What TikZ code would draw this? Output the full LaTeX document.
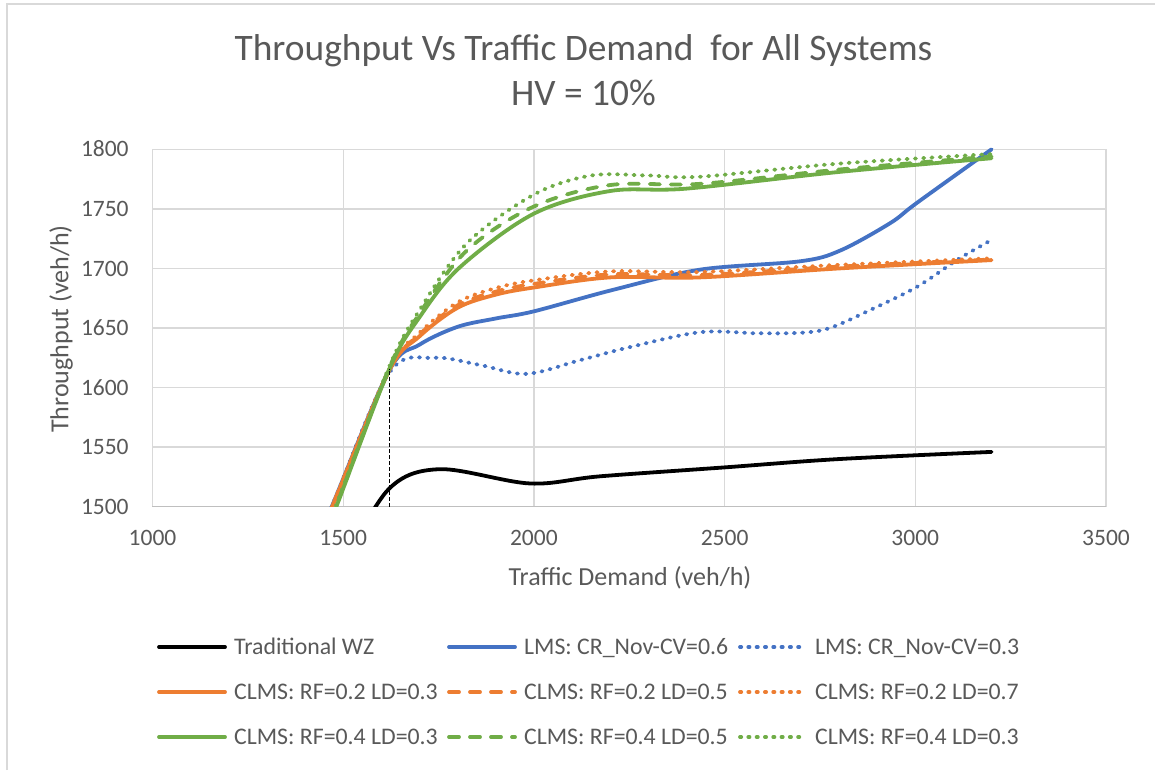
\documentclass[tikz,border=0pt]{standalone}
\usepackage{fontspec}
\setmainfont{Carlito}
\definecolor{txt}{HTML}{595959}
\definecolor{gridc}{HTML}{D9D9D9}
\definecolor{axisc}{HTML}{BFBFBF}
\definecolor{cblue}{HTML}{4472C4}
\definecolor{corange}{HTML}{ED7D31}
\definecolor{cgreen}{HTML}{70AD47}
\begin{document}
\begin{tikzpicture}[x=1pt,y=-1pt,
  frameline/.style={draw=gridc,line width=1.3pt},
  gridline/.style={draw=gridc,line width=1.3pt},
  axisline/.style={draw=axisc,line width=1.3pt},
  titletext/.style={text=txt,inner sep=0pt,font=\fontsize{37.4}{45}\selectfont},
  axistitle/.style={text=txt,inner sep=0pt,font=\fontsize{26}{31}\selectfont},
  ticklabel/.style={text=txt,inner sep=0pt,font=\fontsize{23.5}{28}\selectfont},
  legendtext/.style={text=txt,inner sep=0pt,anchor=base west,font=\fontsize{23.8}{28}\selectfont},
  series/.style={line width=3.8pt,line join=round,line cap=round},
  solidline/.style={series},
  dashline/.style={series,dash pattern=on 10pt off 11pt},
  dotline/.style={series,dash pattern=on 1.2pt off 7.1pt},
  smoothplot/.style={smooth,tension=0.55}
]
\useasboundingbox (0,0) rectangle (1155,770);
\fill[white] (0,0) rectangle (1155,770);
% chart frame (top and left edges)
\draw[frameline] (7,770) -- (7,4) -- (1155,4);

% title
\node[titletext,anchor=base] (title1) at (583.5,61) {Throughput Vs Traffic Demand\ \ for All Systems};
\node[titletext,anchor=base] (title2) at (583.5,106) {HV = 10\%};

% plot area in data coordinates: demand on x, throughput on y
\begin{scope}[shift={(-228.9pt,-2293.65pt)},x=0.3814pt,y=1.1913pt]
  \foreach \v in {1550,1600,...,1800} \draw[gridline] (1000,\v) -- (3500,\v);
  \foreach \u in {1000,1500,...,3500} \draw[gridline] (\u,1500) -- (\u,1800);
  \draw[axisline] (1000,1500) -- (3500,1500);

  % tick labels
  \foreach \v in {1500,1550,...,1800}
    \node[ticklabel,anchor=base east] (ty\v) at (938,\v) [yshift=-7.6pt] {\v};
  \foreach \u in {1000,1500,...,3500}
    \node[ticklabel,anchor=base] (tx\u) at (\u,1500) [yshift=-38.3pt] {\u};

  \begin{scope}
    \clip (1000,1500) rectangle (3500,1830);
    % Traditional WZ
    \draw[solidline,black] plot[smoothplot] coordinates {(1500,1452) (1620,1515) (1754,1531.5) (1990,1519.5) (2173,1525.5) (2500,1533) (2800,1540) (3200,1546)};
    % LMS CR_Nov-CV = 0.6
    \draw[solidline,cblue] plot[smoothplot] coordinates {(1350,1409) (1470,1500) (1620,1614) (1700,1636) (1800,1651) (1900,1658) (2000,1664) (2207,1682) (2436,1699) (2698,1706) (2803,1715) (2934,1738) (3004,1755) (3200,1800)};
    % LMS CR_Nov-CV = 0.3
    \draw[dotline,cblue] plot[smoothplot] coordinates {(1350,1409) (1470,1500) (1620,1612) (1736,1625) (1858,1619) (1980,1611.5) (2121,1623) (2252,1634) (2436,1646.5) (2584,1645.6) (2700,1646) (2776,1650) (2881,1665) (3004,1684.5) (3109,1707) (3200,1724)};
    % CLMS RF = 0.2
    \draw[solidline,corange] plot[smoothplot] coordinates {(1350,1409) (1471,1500) (1620,1614) (1700,1643) (1800,1667) (1900,1678) (2000,1684) (2200,1692.5) (2436,1692.5) (2800,1700) (3200,1707)};
    \draw[dashline,corange] plot[smoothplot] coordinates {(1350,1409) (1471,1500) (1620,1614) (1700,1644.5) (1800,1669) (1900,1680.5) (2000,1687) (2200,1695) (2436,1694.5) (2800,1701.5) (3200,1707.5)};
    \draw[dotline,corange] plot[smoothplot] coordinates {(1350,1409) (1471,1500) (1620,1615) (1700,1646) (1800,1671.5) (1900,1683.5) (2000,1690) (2200,1697.5) (2436,1697) (2800,1703) (3200,1708.5)};
    % CLMS RF = 0.4
    \draw[solidline,cgreen] plot[smoothplot] coordinates {(1350,1390) (1482,1500) (1620,1615) (1700,1659) (1806,1701) (2000,1746) (2200,1765) (2400,1767) (2800,1781) (3200,1792.5)};
    \draw[dashline,cgreen] plot[smoothplot] coordinates {(1350,1390) (1481,1500) (1620,1616) (1700,1662) (1824,1715) (2000,1752) (2200,1770) (2436,1771) (2800,1783) (3200,1794)};
    \draw[dotline,cgreen] plot[smoothplot] coordinates {(1350,1390) (1480,1500) (1620,1617) (1700,1665) (1824,1721) (2000,1762) (2150,1778) (2300,1778) (2436,1777) (2800,1788) (3200,1796)};
  \end{scope}

  % drop line from the branching point
  \coordinate (branch) at (1621,1616);
  \coordinate (branchfoot) at (1621,1500);
  \draw[black,line width=1pt,dash pattern=on 3.5pt off 2.5pt] (branchfoot) -- (branch);
\end{scope}

% axis titles
\node[axistitle,anchor=base] (xtitle) at (630,585.5) {Traffic Demand (veh/h)};
\node[axistitle,rotate=90,anchor=center] (ytitle) at (61,329) {Throughput (veh/h)};

% legend
\foreach \name/\sty/\col/\x/\y/\lab in {
  lgA/solidline/black/157/647/{Traditional WZ},
  lgB/solidline/cblue/447/647/{LMS: CR\_Nov-CV=0.6},
  lgC/dotline/cblue/738/647/{LMS: CR\_Nov-CV=0.3},
  lgD/solidline/corange/157/692/{CLMS: RF=0.2 LD=0.3},
  lgE/dashline/corange/447/692/{CLMS: RF=0.2 LD=0.5},
  lgF/dotline/corange/738/692/{CLMS: RF=0.2 LD=0.7},
  lgG/solidline/cgreen/157/737/{CLMS: RF=0.4 LD=0.3},
  lgH/dashline/cgreen/447/737/{CLMS: RF=0.4 LD=0.5},
  lgI/dotline/cgreen/738/737/{CLMS: RF=0.4 LD=0.3}} {
  \coordinate (\name s) at (\x+2,\y);
  \coordinate (\name e) at (\x+68,\y);
  \draw[\sty,\col] (\name s) -- (\name e);
  \node[legendtext] (\name) at (\x+77,\y+7.6) {\lab};
}
\end{tikzpicture}
\end{document}
